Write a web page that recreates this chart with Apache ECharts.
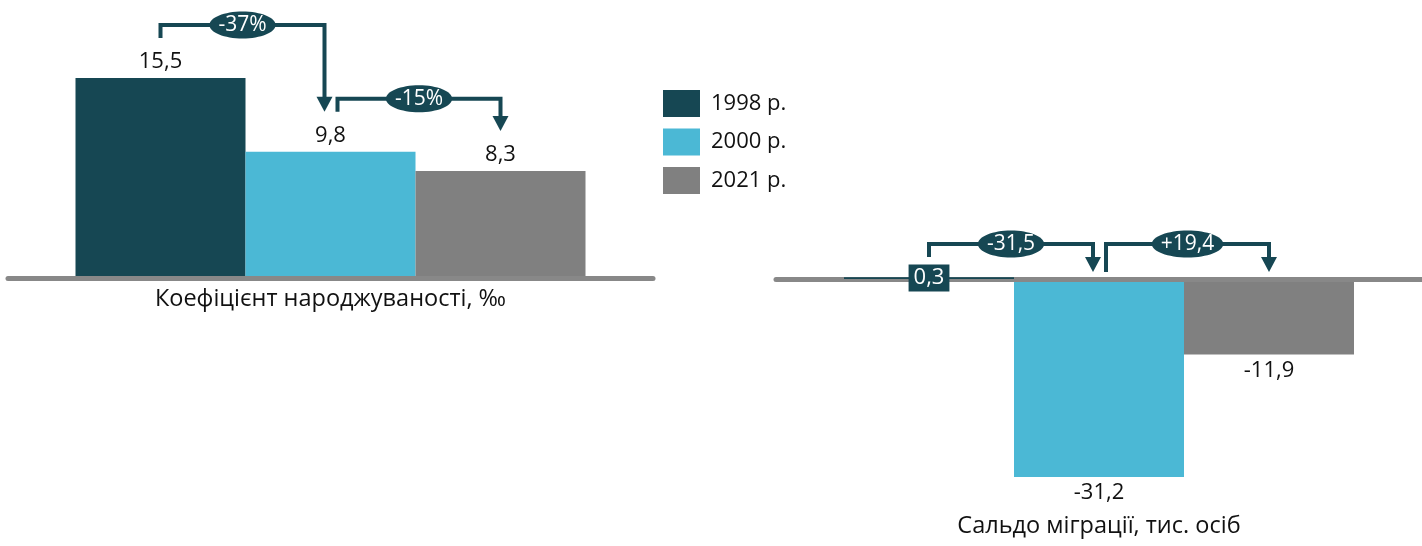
<!DOCTYPE html>
<html>
<head>
<meta charset="utf-8">
<script src="https://cdn.jsdelivr.net/npm/echarts@6/dist/echarts.min.js"></script>
<style>
html, body { margin: 0; padding: 0; background: #fff; }
#chart { width: 1422px; height: 546px; }
</style>
</head>
<body>
<div id="chart"></div>
<script>
// дані
var years = ['1998 р.', '2000 р.', '2021 р.']
var birthRate = [15.5, 9.8, 8.3]
var migration = [0.3, -31.2, -11.9]
var birthChange = ['-37%', '-15%']
var migrationChange = ['-31,5', '+19,4']
var panelNames = ['Коефіцієнт народжуваності, ‰', 'Сальдо міграції, тис. осіб']

var colors = ['#164753', '#4BB8D5', '#808080']
var DARK = '#164753'
var FONT = '"Open Sans", sans-serif'
var BAR_W = 170

function fmt (v) {
  return String(v).replace('.', ',')
}

var chart = echarts.init(document.getElementById('chart'))

var series = []
// ліва панель - народжуваність
years.forEach(function (y, i) {
  series.push({
    name: y,
    type: 'bar',
    xAxisIndex: 0,
    yAxisIndex: 0,
    barWidth: BAR_W,
    barGap: 0,
    z: 2,
    itemStyle: {color: colors[i]},
    label: {
      show: true,
      position: 'top',
      distance: 5,
      fontSize: 22,
      fontFamily: FONT,
      color: '#111',
      formatter: function (p) { return fmt(p.value) }
    },
    data: [birthRate[i]]
  })
})
// права панель - міграція
years.forEach(function (y, i) {
  var v = migration[i]
  var lab = v >= 0 ? {
    position: 'inside',
    backgroundColor: DARK,
    color: '#fff',
    padding: [2, 5, 2, 5],
    lineHeight: 23
  } : {
    position: 'bottom',
    distance: 5
  }
  series.push({
    name: y,
    type: 'bar',
    xAxisIndex: 1,
    yAxisIndex: 1,
    barWidth: BAR_W,
    barGap: 0,
    z: v >= 0 ? 5 : 2,
    itemStyle: {color: colors[i]},
    label: {
      show: true,
      fontSize: 22,
      fontFamily: FONT,
      color: '#111',
      formatter: function (p) { return fmt(p.value) }
    },
    data: [{value: v, label: lab}]
  })
})

function catAxis (idx, name) {
  return {
    gridIndex: idx,
    type: 'category',
    data: [name],
    z: 3,
    axisLine: {lineStyle: {color: '#888888', width: 5}},
    axisTick: {show: false},
    axisLabel: {show: false}
  }
}

var xLeft = catAxis(0, panelNames[0])
xLeft.axisLabel = {margin: 9, fontSize: 23.5, fontFamily: FONT, color: '#111'}
var xRight = catAxis(1, panelNames[1])

chart.setOption({
  animation: false,
  grid: [
    {left: 8, width: 645, top: 19.7, height: 258.8, outerBoundsMode: 'none'},
    {left: 776, width: 646, top: 247.3, height: 285.6, outerBoundsMode: 'none'}
  ],
  legend: {
    orient: 'vertical',
    left: 663,
    top: 90,
    padding: 0,
    icon: 'rect',
    itemWidth: 37,
    itemHeight: 27,
    itemGap: 11.5,
    data: years,
    textStyle: {fontSize: 22, fontFamily: FONT, color: '#111', padding: [0, 0, 0, 6]}
  },
  xAxis: [xLeft, xRight],
  yAxis: [
    {gridIndex: 0, type: 'value', min: 0, max: 20, show: false, splitLine: {show: false}},
    {gridIndex: 1, type: 'value', min: -40, max: 5, show: false, splitLine: {show: false}}
  ],
  series: series
})

// стрілки зі змінами
var LFONT = '21px ' + FONT
var ctx = document.createElement('canvas').getContext('2d')
ctx.font = LFONT

function barCenter (g, i) {
  return chart.convertToPixel({xAxisIndex: g}, 0) + (i - 1) * BAR_W
}

function anchors (g, values) {
  var base = chart.convertToPixel({yAxisIndex: g}, 0)
  return values.map(function (v) {
    if (g === 0) return chart.convertToPixel({yAxisIndex: g}, v) - 40
    if (v >= 0) return base - 22
    return base - 7
  })
}

function brackets (g, values, changes, shared) {
  var out = []
  var ys = anchors(g, values)
  var common = Math.min.apply(null, ys) - 13
  changes.forEach(function (txt, k) {
    var x1 = barCenter(g, k) + (k > 0 ? 7 : 0)
    var x2 = barCenter(g, k + 1) - (k + 1 < values.length - 1 ? 6 : 0)
    var y1 = ys[k]
    var tip = ys[k + 1]
    var lineY = shared ? common : Math.min(y1, tip) - 13
    var cx = (x1 + x2) / 2
    var rx = ctx.measureText(txt).width / 2 + 9
    out.push({
      type: 'polyline',
      z: 10,
      shape: {points: [[x1, y1], [x1, lineY], [x2, lineY], [x2, tip - 14]]},
      style: {stroke: DARK, lineWidth: 4, fill: null, lineJoin: 'miter'}
    })
    out.push({
      type: 'polygon',
      z: 10,
      shape: {points: [[x2 - 8, tip - 15], [x2 + 8, tip - 15], [x2, tip]]},
      style: {fill: DARK}
    })
    out.push({
      type: 'ellipse',
      z: 11,
      shape: {cx: cx, cy: lineY, rx: rx, ry: 13.5},
      style: {fill: DARK}
    })
    out.push({
      type: 'text',
      z: 12,
      x: cx,
      y: lineY,
      style: {text: txt, fill: '#fff', font: LFONT, align: 'center', verticalAlign: 'middle'}
    })
  })
  return out
}

// підпис правої панелі під стовпчиками
var rightCenter = chart.convertToPixel({xAxisIndex: 1}, 0)

chart.setOption({
  title: {
    text: panelNames[1],
    left: rightCenter,
    top: 514,
    padding: 0,
    textAlign: 'center',
    textStyle: {fontSize: 23.5, fontFamily: FONT, color: '#111', fontWeight: 'normal'}
  },
  graphic: brackets(0, birthRate, birthChange, false).concat(brackets(1, migration, migrationChange, true))
})
</script>
</body>
</html>
